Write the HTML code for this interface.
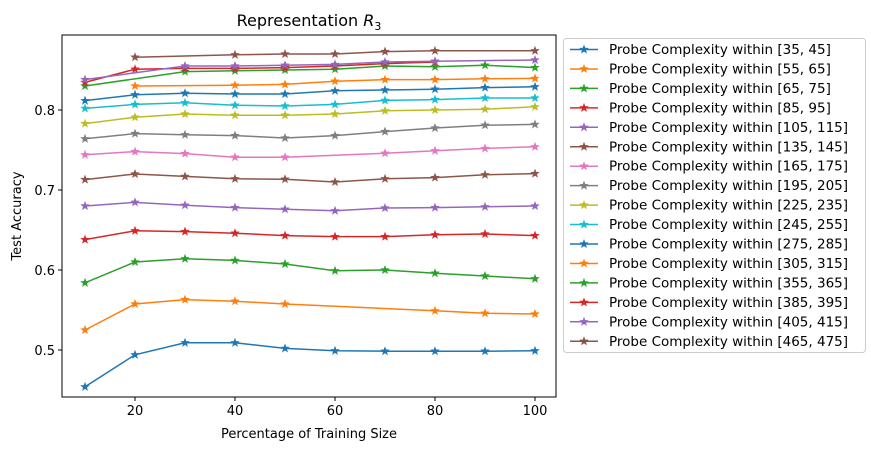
<!DOCTYPE html>
<html><head><meta charset="utf-8"><style>
body{margin:0;background:#fff;}
svg{display:block;font-family:"DejaVu Sans","Liberation Sans",sans-serif;}
</style></head><body>
<svg id="chart" width="871" height="457"></svg>
<script>
const xValues=[10,20,30,40,50,60,70,80,90,100];
const seriesLabels=["[35, 45]","[55, 65]","[65, 75]","[85, 95]","[105, 115]","[135, 145]","[165, 175]","[195, 205]","[225, 235]","[245, 255]","[275, 285]","[305, 315]","[355, 365]","[385, 395]","[405, 415]","[465, 475]"];
const seriesColors=["#1f77b4","#ff7f0e","#2ca02c","#d62728","#9467bd","#8c564b","#e377c2","#7f7f7f","#bcbd22","#17becf","#1f77b4","#ff7f0e","#2ca02c","#d62728","#9467bd","#8c564b"];
const s0=[0.454,0.494,0.509,0.509,0.502,0.499,0.4985,0.4985,0.4985,0.499];
const s1=[0.525,0.5575,0.563,0.561,0.5575,null,null,0.549,0.546,0.545];
const s2=[0.584,0.610,0.614,0.612,0.6075,0.599,0.600,0.596,0.5925,0.589];
const s3=[0.638,0.649,0.648,0.646,0.643,0.6417,0.6417,0.644,0.645,0.643];
const s4=[0.680,0.6846,0.681,0.678,0.676,0.674,0.6775,0.678,0.679,0.680];
const s5=[0.713,0.720,0.717,0.714,0.7135,0.710,0.714,0.7155,0.719,0.7205];
const s6=[0.744,0.748,0.7455,0.741,0.741,null,0.746,0.749,0.752,0.754];
const s7=[0.764,0.7705,0.769,0.768,0.765,0.768,0.773,0.7775,0.781,0.782];
const s8=[0.783,0.791,0.795,0.7935,0.7935,0.795,0.799,0.800,0.801,0.804];
const s9=[0.802,0.807,0.809,0.806,0.805,0.807,0.812,0.813,0.815,0.815];
const s10=[0.8117,0.819,0.821,0.820,0.820,0.824,0.825,0.826,0.828,0.829];
const s11=[null,0.830,null,0.831,0.832,0.836,0.838,0.838,0.839,0.8395];
const s12=[0.830,null,0.848,0.849,0.850,0.851,0.855,0.854,0.856,0.853];
const s13=[0.8345,0.851,0.852,0.852,0.853,0.855,0.858,0.860,null,null];
const s14=[0.838,null,0.855,0.855,0.856,0.857,0.860,0.861,null,0.8625];
const s15=[null,0.866,null,0.869,0.870,0.870,0.873,0.874,null,0.874];
const allSeries=[s0,s1,s2,s3,s4,s5,s6,s7,s8,s9,s10,s11,s12,s13,s14,s15];
const xTicks=[20,40,60,80,100];
const yTicks=[0.5,0.6,0.7,0.8];

const NS="http://www.w3.org/2000/svg";
const svg=document.getElementById('chart');
const L=62,R=556,T=35,B=397;
const xMin=5.4,xMax=104.2,yMin=0.44125,yMax=0.89375;
function xs(v){return L+(v-xMin)/(xMax-xMin)*(R-L);}
function ys(v){return B-(v-yMin)/(yMax-yMin)*(B-T);}
function mk(tag,attrs,parent){const e=document.createElementNS(NS,tag);for(const k in attrs)e.setAttribute(k,attrs[k]);(parent||svg).appendChild(e);return e;}
function star(cx,cy,r){let p=[];for(let i=0;i<10;i++){const a=-Math.PI/2+i*Math.PI/5;const rr=i%2?r*0.42:r;p.push((cx+rr*Math.cos(a)).toFixed(2)+','+(cy+rr*Math.sin(a)).toFixed(2));}return p.join(' ');}

let t=mk('text',{x:(L+R)/2,y:26,'text-anchor':'middle','font-size':'16'});


t.innerHTML='Representation <tspan font-style="italic">R</tspan><tspan font-size="11" dy="4">3</tspan>';

xTicks.forEach(v=>{
  const g=mk('g',{});
  
  
  mk('line',{x1:xs(v),x2:xs(v),y1:B,y2:B+4,stroke:'#000'},g);
  const tx=mk('text',{x:xs(v),y:B+18,'text-anchor':'middle','font-size':'13'},g);tx.textContent=v;
});
yTicks.forEach(v=>{
  const g=mk('g',{});
  
  
  mk('line',{x1:L-4,x2:L,y1:ys(v),y2:ys(v),stroke:'#000'},g);
  const tx=mk('text',{x:L-7,y:ys(v)+5,'text-anchor':'end','font-size':'13'},g);tx.textContent=v.toFixed(1);
});
let xl=mk('text',{x:(L+R)/2,y:438,'text-anchor':'middle','font-size':'13'});


xl.textContent='Percentage of Training Size';
let yl=mk('text',{x:0,y:0,'text-anchor':'middle','font-size':'13',transform:`translate(21,${(T+B)/2}) rotate(-90)`});


yl.textContent='Test Accuracy';

allSeries.forEach((s,i)=>{
  const g=mk('g',{});
  
  
  const pts=[];
  s.forEach((v,j)=>{if(v!==null)pts.push([xs(xValues[j]),ys(v)]);});
  mk('polyline',{points:pts.map(p=>p.join(',')).join(' '),fill:'none',stroke:seriesColors[i],'stroke-width':1.5},g);
  pts.forEach(p=>{const m=mk('polygon',{points:star(p[0],p[1],5),fill:seriesColors[i]},g);
    
    });
});

let fr=mk('rect',{x:L,y:T,width:R-L,height:B-T,fill:'none',stroke:'#000','stroke-width':1});



const lg=mk('g',{});


mk('rect',{x:563.5,y:38.5,width:302,height:314,rx:3,fill:'#fff',stroke:'#ccc'},lg);
seriesLabels.forEach((lab,i)=>{
  const y=49.5+i*19.45;
  const e=mk('g',{},lg);
  
  
  mk('line',{x1:570,x2:598,y1:y,y2:y,stroke:seriesColors[i],'stroke-width':1.5},e);
  mk('polygon',{points:star(584,y,5),fill:seriesColors[i]},e);
  const tx=mk('text',{x:609,y:y+4.5,'font-size':'13.5'},e);tx.textContent='Probe Complexity within '+lab;
});
</script>
</body></html>
